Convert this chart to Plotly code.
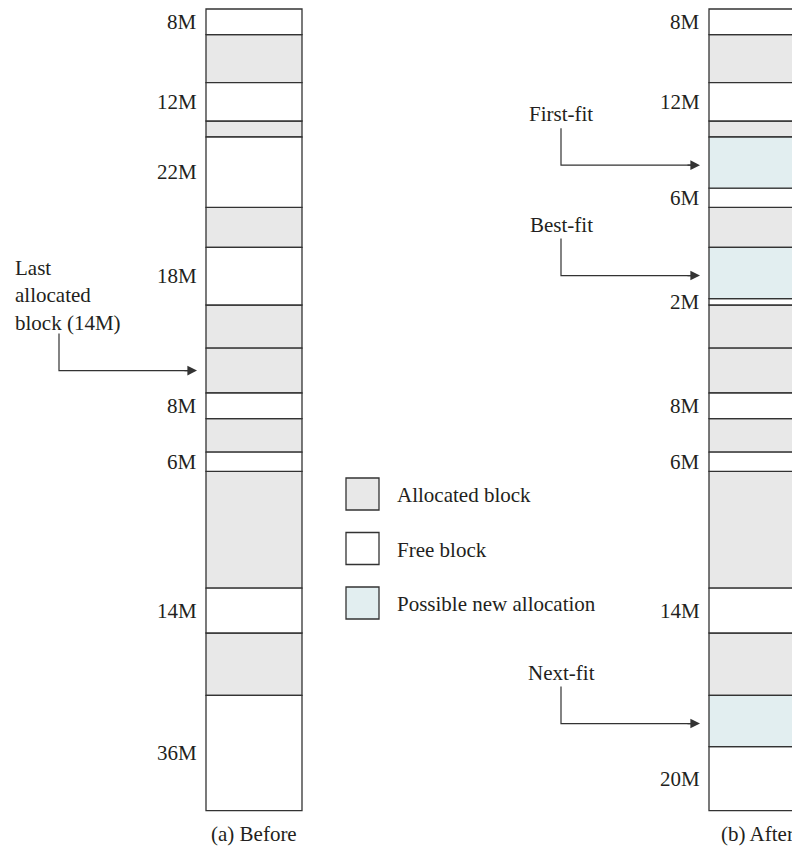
import plotly.graph_objects as go

# Memory blocks, top to bottom, sizes in MB
BEFORE_SIZES = [8, 15, 12, 5, 22, 12.5, 18, 13.5, 14, 8, 10.5, 6, 36.5, 14, 19.5, 36]
BEFORE_KINDS = ["free", "alloc", "free", "alloc", "free", "alloc", "free", "alloc",
                "alloc", "free", "alloc", "free", "alloc", "free", "alloc", "free"]

AFTER_SIZES = [8, 15, 12, 5, 16, 6, 12.5, 16, 2, 13.5, 14, 8, 10.5, 6, 36.5, 14, 19.5, 16, 20]
AFTER_KINDS = ["free", "alloc", "free", "alloc", "new", "free", "alloc", "new", "free",
               "alloc", "alloc", "free", "alloc", "free", "alloc", "free", "alloc", "new", "free"]

LAST_ALLOC_IDX = 8          # index in BEFORE
FIT_POINTERS = [("First-fit", 4), ("Best-fit", 7), ("Next-fit", 17)]  # index in AFTER

LEGEND_LABELS = ["Allocated block", "Free block", "Possible new allocation"]
CAPTIONS = ["(a) Before", "(b) After"]

FILL = {"alloc": "#e8e8e8", "free": "#ffffff", "new": "#e2eef0"}
LINE = "#333333"
TEXT = "#231f20"
FONT = dict(family="Liberation Serif, Times New Roman, serif", size=21, color=TEXT)

# canvas: x in page pixels, y in MB (3.2 px per MB, column starts 9px from top)
# the page body has an 8px margin, so the figure covers pixels 8..800 / 8..846
W, H = 800, 846
PAD = 8
TOP_PX, PX_PER_MB = 9, 3.2
COL_W = 96
COL_X = [254, 757]


def mb(px):
    """pixel row -> MB coordinate on the y axis"""
    return (px - TOP_PX) / PX_PER_MB


def starts(sizes):
    out, acc = [], 0
    for s in sizes:
        out.append(acc)
        acc += s
    return out


fig = go.Figure()
annotations = []
shapes = []

for col_x, sizes, kinds in [(COL_X[0], BEFORE_SIZES, BEFORE_KINDS),
                            (COL_X[1], AFTER_SIZES, AFTER_KINDS)]:
    base = starts(sizes)
    for kind in ["alloc", "free", "new"]:
        idx = [i for i, k in enumerate(kinds) if k == kind]
        if not idx:
            continue
        fig.add_trace(go.Bar(
            x=[col_x] * len(idx), y=[sizes[i] for i in idx], base=[base[i] for i in idx],
            width=COL_W, marker=dict(color=FILL[kind], line=dict(color=LINE, width=1.3)),
            hoverinfo="skip", showlegend=False,
        ))
    # size labels on free blocks
    for i, k in enumerate(kinds):
        if k == "free":
            annotations.append(dict(
                x=col_x - COL_W / 2 - 7, y=base[i] + sizes[i] / 2, text=f"{sizes[i]:g}M",
                xanchor="right", yanchor="middle", showarrow=False, font=FONT,
            ))


def pointer(stem_x, tip_x, y_arrow):
    y_top = y_arrow - 37 / PX_PER_MB
    fig.add_trace(go.Scatter(
        x=[stem_x, stem_x, tip_x - 8], y=[y_top, y_arrow, y_arrow], mode="lines",
        line=dict(color=LINE, width=1.2), hoverinfo="skip", showlegend=False,
    ))
    annotations.append(dict(
        x=tip_x, y=y_arrow, ax=tip_x - 14, ay=y_arrow, axref="x", ayref="y",
        text="", showarrow=True, arrowhead=2, arrowsize=1.6, arrowwidth=1.2,
        arrowcolor=LINE, standoff=0,
    ))


# last allocated block pointer (before)
b0 = starts(BEFORE_SIZES)
y_last = b0[LAST_ALLOC_IDX] + BEFORE_SIZES[LAST_ALLOC_IDX] / 2
pointer(59, COL_X[0] - COL_W / 2 - 9, y_last)
annotations.append(dict(
    x=13, y=y_last - 75 / PX_PER_MB,
    text=f"Last<br>allocated<br>block ({BEFORE_SIZES[LAST_ALLOC_IDX]:g}M)",
    xanchor="left", yanchor="middle", align="left", showarrow=False, font=FONT,
))

# placement policy pointers (after)
b1 = starts(AFTER_SIZES)
for label, i in FIT_POINTERS:
    y_arr = b1[i] + AFTER_SIZES[i] / 2 + 0.8
    pointer(561, COL_X[1] - COL_W / 2 - 9, y_arr)
    annotations.append(dict(
        x=561, y=y_arr - 51 / PX_PER_MB, text=label,
        xanchor="center", yanchor="middle", showarrow=False, font=FONT,
    ))

# legend
for j, (lab, kind) in enumerate(zip(LEGEND_LABELS, ["alloc", "free", "new"])):
    top = 478 + j * 54.5
    shapes.append(dict(
        type="rect", xref="x", yref="y", x0=346, x1=379, y0=mb(top), y1=mb(top + 32),
        fillcolor=FILL[kind], line=dict(color=LINE, width=1.3),
    ))
    annotations.append(dict(
        x=395, y=mb(top + 17), text=lab, xanchor="left", yanchor="middle",
        showarrow=False, font=FONT,
    ))

# captions
for cx, cap in zip(COL_X, CAPTIONS):
    annotations.append(dict(
        x=cx, y=mb(834), text=cap, xanchor="center", yanchor="middle",
        showarrow=False, font=FONT,
    ))

fig.update_layout(
    width=W - PAD, height=H - PAD, margin=dict(l=0, r=0, t=0, b=0),
    paper_bgcolor="white", plot_bgcolor="white", barmode="overlay",
    xaxis=dict(range=[PAD, W], visible=False, fixedrange=True),
    yaxis=dict(range=[mb(H), mb(PAD)], visible=False, fixedrange=True),
    annotations=annotations, shapes=shapes,
)

fig.write_html("out.html")
